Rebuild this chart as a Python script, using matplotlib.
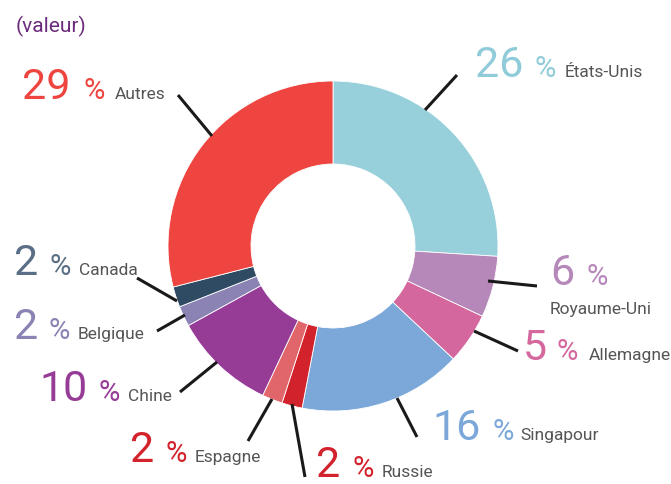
import matplotlib
matplotlib.use("Agg")
import matplotlib.pyplot as plt

plt.rcParams['font.family'] = ['Roboto', 'DejaVu Sans']

# parts de marché (valeur), dans l'ordre horaire depuis le haut
pays = ["États-Unis", "Royaume-Uni", "Allemagne", "Singapour", "Russie",
        "Espagne", "Chine", "Belgique", "Canada", "Autres"]
parts = [26, 6, 5, 16, 2, 2, 10, 2, 2, 29]
couleurs = ["#97CFDB", "#B687B9", "#D4679D", "#7BA7D9", "#D2232D",
            "#E0666B", "#963B96", "#8A83B4", "#2F4A63", "#EF4540"]
couleurs_texte = ["#8FCBD8", "#B687B9", "#D4679D", "#7BA7D9", "#D2232D",
                  "#D2232D", "#963B96", "#8A83B4", "#5A6F85", "#EF4540"]

H = 485
def Y(v):
    return H - v

fig = plt.figure(figsize=(6.71, 4.85), dpi=100)
ax = fig.add_axes([0, 0, 1, 1])

ax.pie(parts, colors=couleurs, startangle=90, counterclock=False,
       radius=165, center=(333, Y(247)),
       wedgeprops=dict(width=83, edgecolor="white", linewidth=0.6))

ax.set_xlim(0, 671)
ax.set_ylim(0, H)
ax.set_aspect("equal")
ax.axis("off")

# traits de rappel (pixels de l'image)
traits = {
    "États-Unis": ((425, 111), (457, 76)),
    "Royaume-Uni": ((488, 282), (537, 287)),
    "Allemagne": ((474, 332), (518, 352)),
    "Singapour": ((397, 399), (417, 438)),
    "Russie": ((292, 405), (305, 478)),
    "Espagne": ((272, 400), (248, 442)),
    "Chine": ((217, 363), (180, 393)),
    "Belgique": ((185, 316), (157, 332)),
    "Canada": ((137, 279), (177, 302)),
    "Autres": ((178, 96), (212, 137)),
}
for p, (a, b) in traits.items():
    ax.plot([a[0], b[0]], [Y(a[1]), Y(b[1])], color="#1a1a1a", lw=2.2,
            solid_capstyle="butt")

# étiquettes : (x nombre, x %, x nom, ligne de base, nom sur la ligne suivante)
etiq = {
    "États-Unis": (475, 535, 565, 77, None),
    "Royaume-Uni": (550, 587, 550, 285, 314),
    "Allemagne": (523, 557, 589, 360, None),
    "Singapour": (432, 492, 520, 440, None),
    "Russie": (316, 352, 382, 477, None),
    "Espagne": (130, 165, 195, 462, None),
    "Chine": (39, 98, 128, 401, None),
    "Belgique": (14, 48, 78, 339, None),
    "Canada": (14, 49, 79, 275, None),
    "Autres": (22, 83, 115, 99, None),
}
for p, v, c in zip(pays, parts, couleurs_texte):
    xn, xp, xl, yb, yl = etiq[p]
    ax.text(xn, Y(yb), str(v), color=c, fontsize=31, fontweight="normal",
            va="baseline", ha="left")
    ax.text(xp, Y(yb), "%", color=c, fontsize=21, fontweight="normal",
            va="baseline", ha="left")
    ax.text(xl, Y(yl if yl else yb), p, color="#555555", fontsize=12.5,
            fontweight="normal", va="baseline", ha="left")

ax.text(16, Y(32), "(valeur)", color="#6B2A7A", fontsize=15,
        va="baseline", ha="left")

fig.savefig("out.png", dpi=100)
